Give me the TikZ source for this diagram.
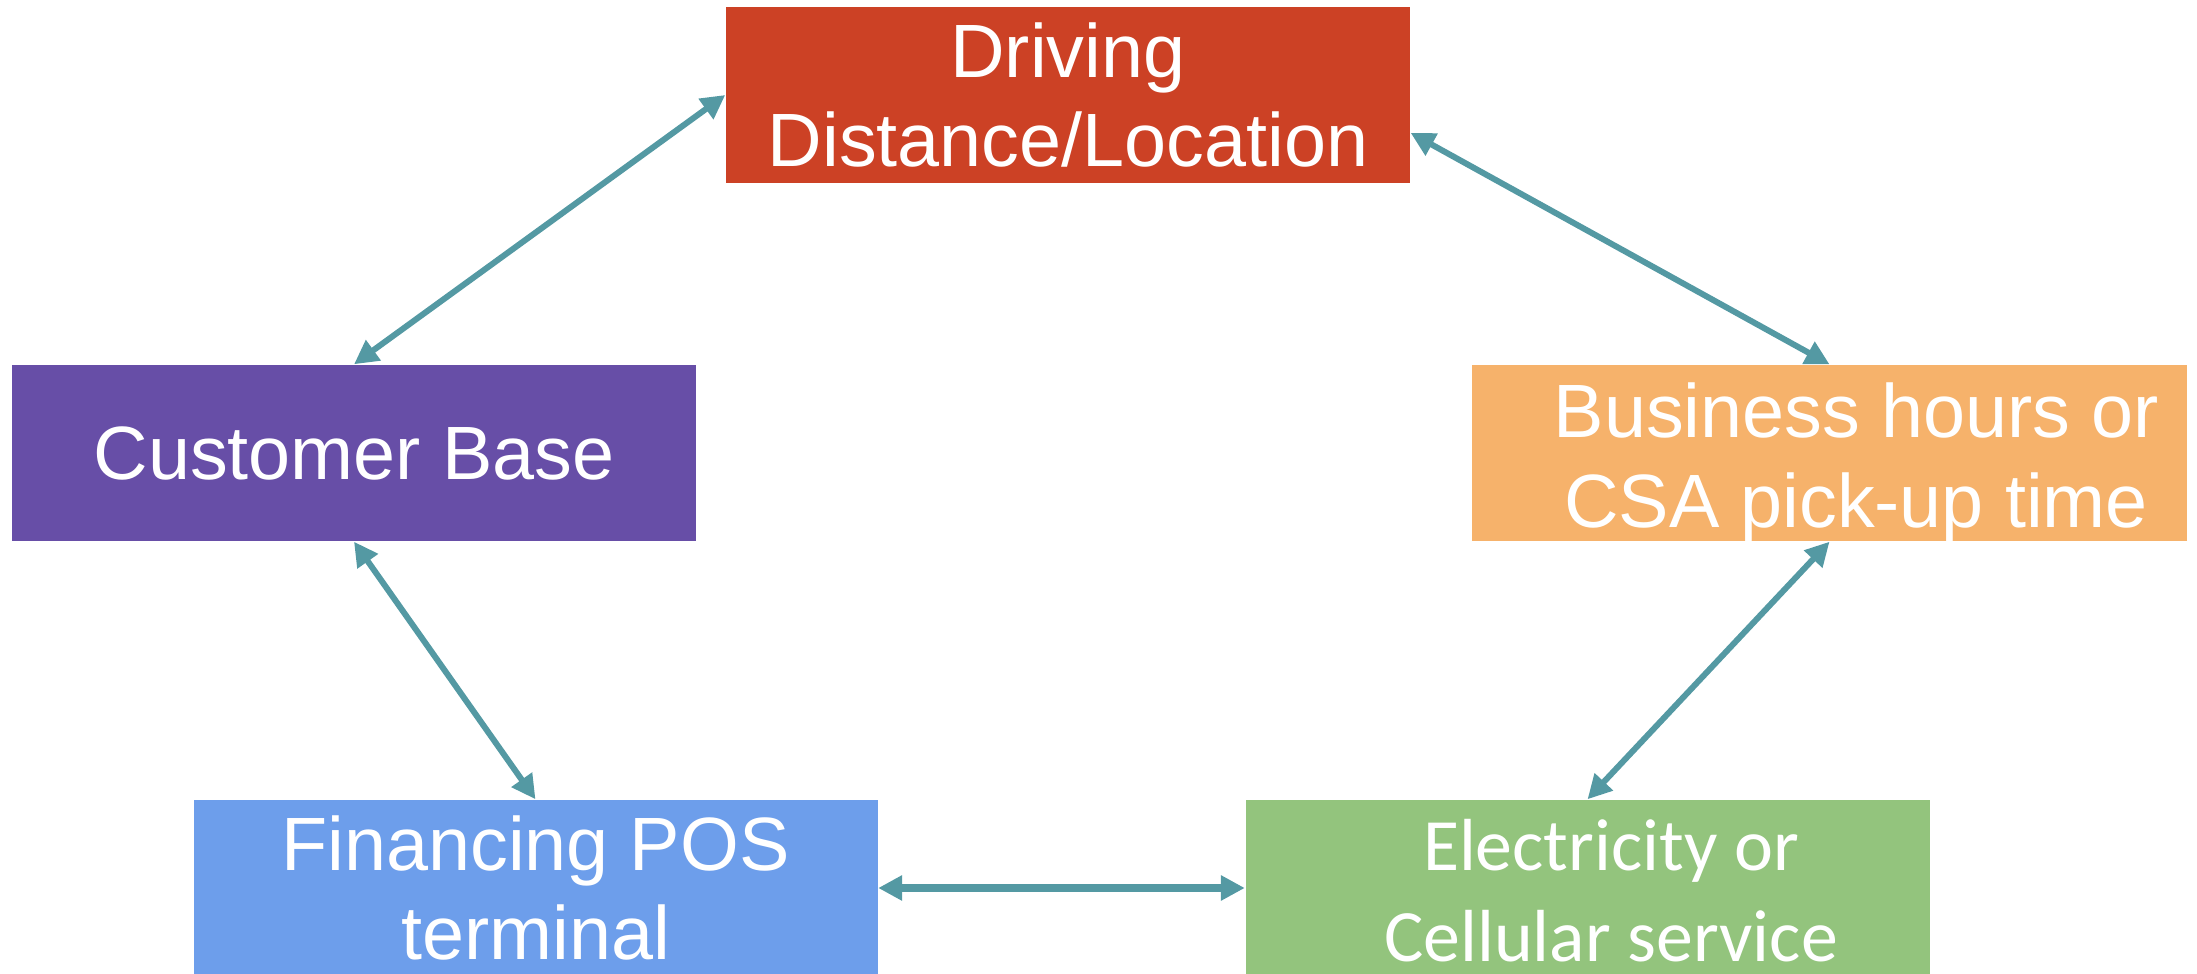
\documentclass[tikz,border=0pt]{standalone}
\usepackage{fontspec}
\setmainfont{Liberation Sans}
\newfontfamily\carlitofont{Carlito}
\usetikzlibrary{arrows.meta}

\definecolor{drivered}{HTML}{CC4125}
\definecolor{basepurple}{HTML}{674EA7}
\definecolor{hoursorange}{HTML}{F6B26B}
\definecolor{posblue}{HTML}{6D9EEB}
\definecolor{powergreen}{HTML}{93C47D}
\definecolor{linkteal}{RGB}{84,153,163}

\begin{document}
\begin{tikzpicture}[box/.style={rectangle, minimum width=6.84cm, minimum height=1.76cm,
        inner sep=0pt, text=white, align=center, font=\fontsize{21.5}{25.6}\selectfont},
        boxtext/.style={text=white, align=center, inner sep=0pt, font=\fontsize{21.5}{25.6}\selectfont},
        link/.style={{Triangle[length=0.24cm,width=0.24cm]}-{Triangle[length=0.24cm,width=0.24cm]},
        line width=1.7pt, draw=linkteal}]

    \useasboundingbox (0,0) rectangle (21.97,-9.74);

    \node[box, fill=drivered] (driving) at (10.68,-0.95) {Driving\\Distance/Location};
    \node[box, fill=basepurple] (customer) at (3.54,-4.53) {Customer Base};
    \node[box, fill=hoursorange, minimum width=7.15cm] (business) at (18.295,-4.53) {};
    \node[boxtext] (businesstext) at (18.56,-4.63) {Business hours or\\CSA pick-up time};
    \node[box, fill=posblue] (financing) at (5.355,-8.88) {Financing POS\\terminal};
    \node[box, fill=powergreen] (electricity) at (15.875,-8.88) {};
    \node[boxtext, font=\fontsize{21}{25.9}\selectfont\carlitofont] (electricitytext) at (16.11,-8.91) {Electricity or\\Cellular service};

    \draw[link] (customer.north) -- (driving.west);
    \draw[link] ([yshift=-0.38cm]driving.east) -- (business.north);
    \draw[link] (customer.south) -- (financing.north);
    \draw[link] (business.south) -- (electricity.north);
    \draw[link, line width=2.4pt] (financing.east) -- (electricity.west);
\end{tikzpicture}
\end{document}
